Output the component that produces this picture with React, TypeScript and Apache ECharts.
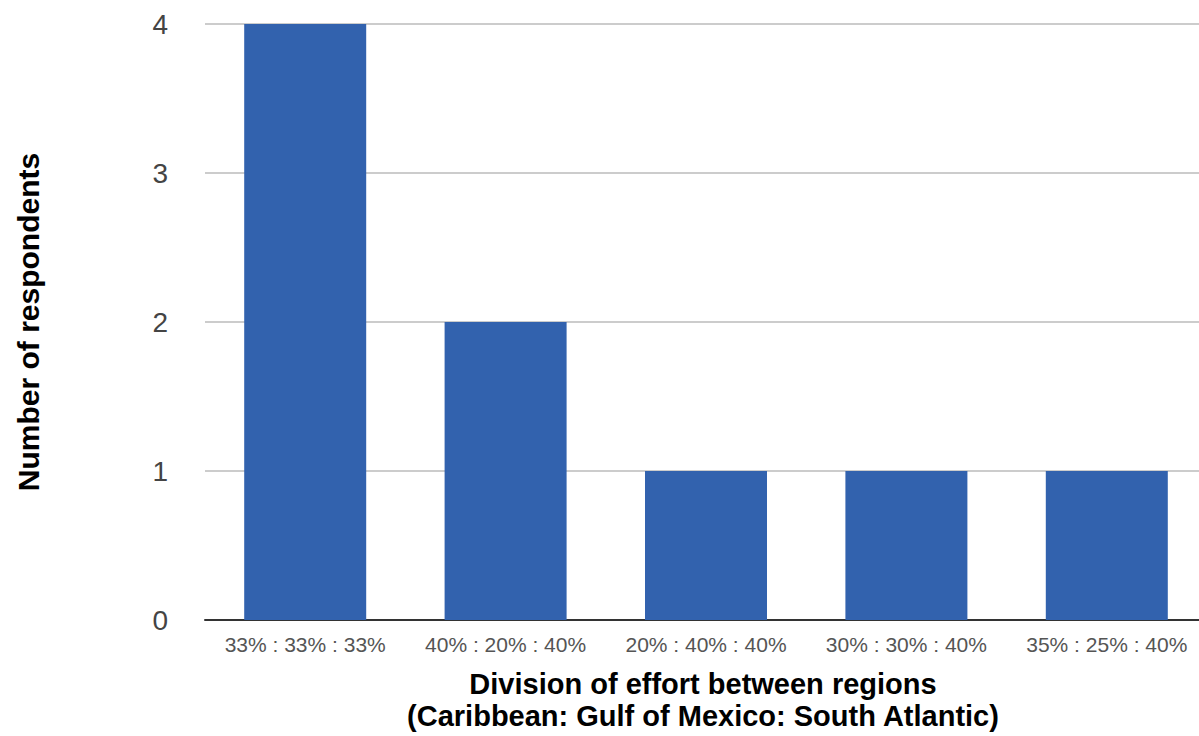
import React, { useEffect, useRef } from "react";
import * as echarts from "echarts";

const categories = ["33% : 33% : 33%", "40% : 20% : 40%", "20% : 40% : 40%", "30% : 30% : 40%", "35% : 25% : 40%"];
const respondents = [4, 2, 1, 1, 1];
const yTicks = [0, 1, 2, 3, 4];

export default function App() {
  const ref = useRef<HTMLDivElement>(null);
  useEffect(() => {
    if (!ref.current) return;
    const chart = echarts.init(ref.current, null, { renderer: "svg" });
    const font = "'Liberation Sans', Arial, sans-serif";
    chart.setOption({
      animation: false,
      backgroundColor: "#ffffff",
      grid: { left: 205, width: 1002, top: 24, height: 596, containLabel: false, outerBoundsMode: "none" },
      xAxis: {
        type: "category",
        data: categories,
        name: "Division of effort between regions\n(Caribbean: Gulf of Mexico: South Atlantic)",
        nameLocation: "middle",
        nameGap: 48,
        nameTextStyle: { fontFamily: font, fontSize: 29, fontWeight: "bold", color: "#000", lineHeight: 32, verticalAlign: "top", padding: [0, 6, 0, 0] },
        axisLine: { show: true, lineStyle: { color: "#333", width: 2 } },
        axisTick: { show: false },
        axisLabel: { fontFamily: font, fontSize: 21, color: "#555", margin: 14, interval: 0 },
      },
      yAxis: {
        type: "value",
        min: yTicks[0],
        max: yTicks[yTicks.length - 1],
        interval: 1,
        name: "Number of respondents",
        nameLocation: "middle",
        nameGap: 177,
        nameRotate: 90,
        nameTextStyle: { fontFamily: font, fontSize: 30, fontWeight: "bold", color: "#000", verticalAlign: "middle" },
        axisLine: { show: false },
        axisTick: { show: false },
        axisLabel: { fontFamily: font, fontSize: 28, color: "#444", margin: 37 },
        splitLine: { lineStyle: { color: "#cccccc", width: 2 } },
      },
      series: [
        {
          type: "bar",
          data: respondents,
          barWidth: 122,
          itemStyle: { color: "#3262ae" },
        },
      ],
    });
    return () => chart.dispose();
  }, []);
  return <div ref={ref} style={{ position: "fixed", left: 0, top: 0, width: 1199, height: 736 }} />;
}
